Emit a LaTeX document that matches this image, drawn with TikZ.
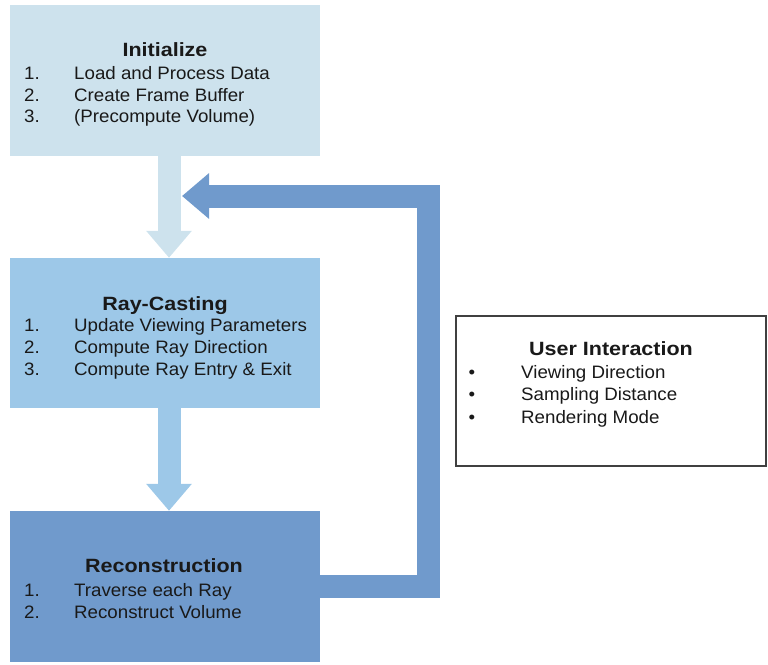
\documentclass[tikz,border=0pt]{standalone}
\usepackage{fontspec}
\setmainfont{Liberation Sans}
\newfontfamily\headfont[FakeStretch=1.12]{Liberation Sans}
\newfontfamily\listfont[FakeStretch=1.04]{Liberation Sans}
\usetikzlibrary{arrows.meta}
\definecolor{initblue}{RGB}{205,226,237}
\definecolor{castblue}{RGB}{157,200,232}
\definecolor{reconblue}{RGB}{112,154,204}
\definecolor{textgray}{RGB}{25,25,25}

\begin{document}
\begin{tikzpicture}[x=1pt, y=-1pt,
    stagebox/.style={minimum width=310pt, minimum height=151pt, inner sep=0pt},
    stagetitle/.style={anchor=base, inner sep=0pt, text=textgray,
        font=\headfont\bfseries\fontsize{19.2}{23}\selectfont},
    stageitem/.style={anchor=base west, inner sep=0pt, text=textgray,
        font=\listfont\fontsize{18}{22}\selectfont},
    flowarrow/.style={line width=23pt, line join=miter, -{Triangle[width=44pt, length=27pt]}}
]
    \useasboundingbox (0,0) rectangle (768,664);

    % Stages
    \node[stagebox, fill=initblue] (init) at (165,80.5) {};
    \node[stagebox, fill=castblue, minimum height=150pt] (cast) at (165,333) {};
    \node[stagebox, fill=reconblue] (recon) at (165,586.5) {};
    \node[stagebox, fill=white, draw=black!75, line width=1.2pt, minimum height=150pt] (user) at (611,391) {};

    % Flow arrows
    \draw[flowarrow, initblue] ([xshift=4pt]init.south) -- ([xshift=4pt]cast.north);
    \draw[flowarrow, castblue] ([xshift=4pt]cast.south) -- ([xshift=4pt]recon.north);

    % Feedback loop
    \coordinate (loopin) at (182,196);
    \draw[flowarrow, reconblue] (recon.east) -| (428,196) -- (loopin);

    % Initialize
    \node[stagetitle] (inittitle) at (165,56) {Initialize};
    \foreach \txt [count=\i] in {Load and Process Data, Create Frame Buffer, (Precompute Volume)} {
        \node[stageitem] (initnum\i) at (24,{57.5+21.8*\i}) {\i.};
        \node[stageitem] (inititem\i) at (74,{57.5+21.8*\i}) {\txt};
    }

    % Ray-Casting
    \node[stagetitle] (casttitle) at (165,310.7) {Ray-Casting};
    \foreach \txt [count=\i] in {Update Viewing Parameters, Compute Ray Direction, Compute Ray Entry \& Exit} {
        \node[stageitem] (castnum\i) at (24,{310+21.9*\i}) {\i.};
        \node[stageitem] (castitem\i) at (74,{310+21.9*\i}) {\txt};
    }

    % Reconstruction
    \node[stagetitle] (recontitle) at (164,572.7) {Reconstruction};
    \foreach \txt [count=\i] in {Traverse each Ray, Reconstruct Volume} {
        \node[stageitem] (reconnum\i) at (24,{575.2+21.6*\i}) {\i.};
        \node[stageitem] (reconitem\i) at (74,{575.2+21.6*\i}) {\txt};
    }

    % User Interaction
    \node[stagetitle] (usertitle) at (611,355) {User Interaction};
    \foreach \txt [count=\i] in {Viewing Direction, Sampling Distance, Rendering Mode} {
        \node[stageitem, anchor=base] (userdot\i) at (472,{356+22.4*\i}) {\textbullet};
        \node[stageitem] (useritem\i) at (521,{356+22.4*\i}) {\txt};
    }

\end{tikzpicture}
\end{document}
